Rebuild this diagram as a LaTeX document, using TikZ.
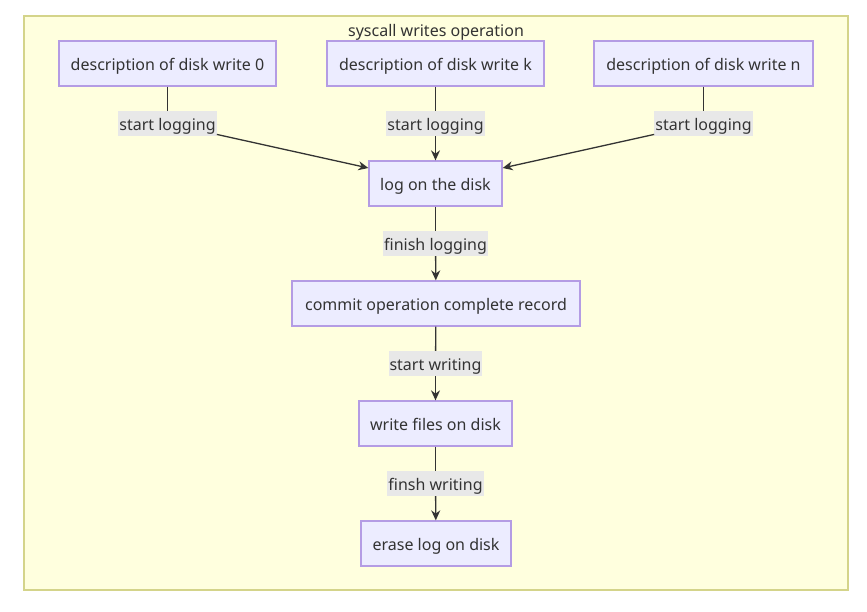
\documentclass[tikz,border=0pt]{standalone}
\usepackage{fontspec}
\setmainfont{Noto Sans}
\usetikzlibrary{arrows.meta, positioning}
\definecolor{clusterFill}{HTML}{FFFFDE}
\definecolor{clusterLine}{HTML}{D4D48A}
\definecolor{stepFill}{HTML}{ECECFF}
\definecolor{stepLine}{HTML}{B49CE4}
\definecolor{tagFill}{HTML}{E8E8E8}
\colorlet{ink}{black!80}

\begin{document}
\begin{tikzpicture}[x=1pt, y=-1pt,
  stepbox/.style={draw=stepLine, fill=stepFill, line width=1.3pt, minimum height=45pt,
    inner xsep=0pt, text height=14pt, text depth=0.5pt, text=ink, font=\fontsize{16}{19}\selectfont},
  edgetag/.style={fill=tagFill, inner xsep=1pt, inner ysep=0pt, minimum height=25pt,
    text height=14pt, text depth=0.5pt, text=ink, font=\fontsize{16}{19}\selectfont},
  link/.style={draw=ink, line width=1.3pt},
  flow/.style={link, -{Stealth[length=10pt, width=9pt]}}]
  \useasboundingbox (0,0) rectangle (867,611);
  % cluster
  \draw[fill=clusterFill, draw=clusterLine, line width=1.6pt] (24,16) rectangle (848,590);
  \node[text height=14pt, text depth=0.5pt, text=ink, font=\fontsize{16}{19}\selectfont] (title) at (436,29.5) {syscall writes operation};
  % disk writes
  \node[stepbox, minimum width=217pt] (d0) at (167.5,63.5) {description of disk write 0};
  \node[stepbox, minimum width=217pt] (dk) at (435.5,63.5) {description of disk write k};
  \node[stepbox, minimum width=219pt] (dn) at (703.5,63.5) {description of disk write n};
  \node[stepbox, minimum width=133pt] (log) at (435.5,183.5) {log on the disk};
  \node[stepbox, minimum width=288pt] (commit) at (436,303.5) {commit operation complete record};
  \node[stepbox, minimum width=153pt] (files) at (435.5,423.5) {write files on disk};
  \node[stepbox, minimum width=150pt] (erase) at (436,543.5) {erase log on disk};
  % edge labels
  \node[edgetag] (t0) at (167.5,123.5) {start logging};
  \node[edgetag] (tk) at (435.5,123.5) {start logging};
  \node[edgetag] (tn) at (703.5,123.5) {start logging};
  \node[edgetag] (tlog) at (435.5,243.5) {finish logging};
  \node[edgetag] (tcommit) at (435.5,363.5) {start writing};
  \node[edgetag] (tfiles) at (435.5,483.5) {finsh writing};
  % connectors
  \draw[link] (d0) -- (t0);
  \draw[flow] (t0) -- (log.167);
  \draw[link] (dk) -- (tk);
  \draw[flow] (tk) -- (log);
  \draw[link] (dn) -- (tn);
  \draw[flow] (tn) -- (log.13);
  \draw[link] (log) -- (tlog);
  \draw[flow] (tlog) -- (commit);
  \draw[link] (commit) -- (tcommit);
  \draw[flow] (tcommit) -- (files);
  \draw[link] (files) -- (tfiles);
  \draw[flow] (tfiles) -- (erase);
\end{tikzpicture}
\end{document}
